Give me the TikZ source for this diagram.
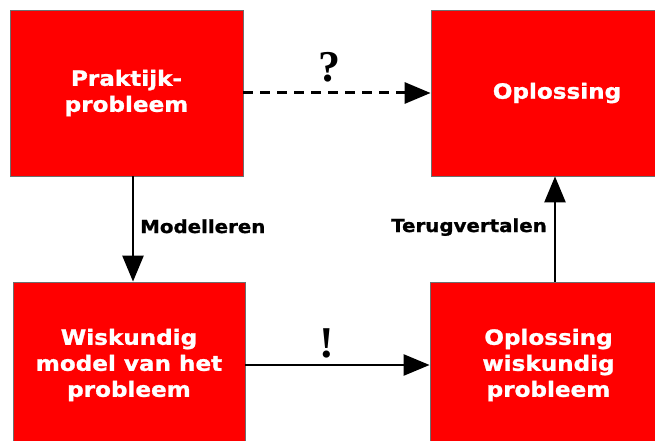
\documentclass[tikz,border=0pt]{standalone}
\usepackage{fontspec}
\setmainfont{DejaVu Sans}[FakeStretch=1.1,BoldFeatures={FakeBold=1.2}]
\newfontfamily\signfont{Liberation Serif}
\usetikzlibrary{arrows.meta}
\definecolor{boxred}{HTML}{FF0000}
\definecolor{rim}{HTML}{6E6E6E}

\begin{document}
\begin{tikzpicture}[x=1pt,y=1pt,
          stage/.style={draw=rim,line width=0.8pt,fill=boxred,text=white,align=center,
            minimum height=166pt,inner sep=0pt,font=\bfseries\fontsize{21}{26}\selectfont},
          flow/.style={line width=2.5pt,-{Triangle[length=26pt,width=21pt]}},
          verb/.style={inner sep=0pt,font=\bfseries\fontsize{18}{20}\selectfont},
          sign/.style={inner sep=0pt,font=\signfont\bfseries\fontsize{44}{44}\selectfont}]
        \useasboundingbox (0,0) rectangle (655,-441);
        \fill[white] (0,0) rectangle (655,-441);
        \clip (0,0) rectangle (655,-441);
        \node[stage,minimum width=233pt] (praktijk)  at (126.5,-93) {Praktijk-\\probleem};
        \node[stage,minimum width=252pt] (oplossing) at (557,-93)   {Oplossing};
        \node[stage,minimum width=232pt] (model)     at (129,-365)  {Wiskundig\\model van het\\probleem};
        \node[stage,minimum width=237pt] (wisopl)    at (548.5,-365){Oplossing\\wiskundig\\probleem};
        \draw[flow,line width=3pt,dash pattern=on 10pt off 7pt] (praktijk.east) -- (oplossing.west);
        \draw[flow] (model.east) -- (wisopl.west);
        \draw[flow] ([xshift=6.5pt]praktijk.south) -- ([xshift=6.5pt]praktijk.south |- model.north);
        \draw[flow] ([xshift=6.5pt]wisopl.north) -- ([xshift=6.5pt]wisopl.north |- oplossing.south);
        \node[sign,anchor=base]       (vraag)  at (329,-82)  {?};
        \node[sign,anchor=base]       (uitroep) at (327,-357) {!};
        \node[verb,anchor=base west]  (modelleren) at (140,-233) {Modelleren};
        \node[verb,anchor=base east]  (terug)  at (547,-232) {Terugvertalen};
      \end{tikzpicture}
\end{document}
